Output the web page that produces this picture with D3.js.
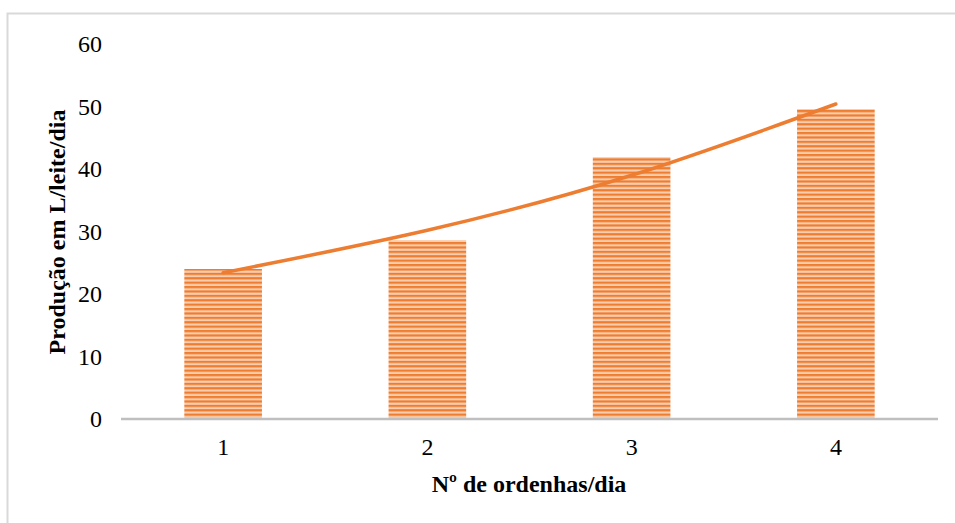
<!DOCTYPE html>
<html><head><meta charset="utf-8">
<script src="https://cdn.jsdelivr.net/npm/d3@7"></script>
<style>body{margin:0;background:#fff}svg{display:block}</style>
</head><body>
<svg id="c" width="955" height="523"></svg>
<script>
const categories = ["1", "2", "3", "4"];
const production = [24.0, 28.6, 41.9, 49.6];
const trendValues = [23.4, 30.2, 39.0, 50.4];
const yTicks = [0, 10, 20, 30, 40, 50, 60];
const xTitle = "Nº de ordenhas/dia";
const yTitle = "Produção em L/leite/dia";

const svg = d3.select("#c");
const W = 955, H = 523;
const font = "'Liberation Serif','Times New Roman',serif";
const orange = "#ED7D31";

// frame
svg.append("path").attr("d", `M7.5,${H}V13.5H${W}`).attr("fill","none").attr("stroke","#d9d9d9").attr("stroke-width",2);

// pattern
const defs = svg.append("defs");
const pat = defs.append("pattern").attr("id","stripes").attr("patternUnits","userSpaceOnUse")
  .attr("width",8).attr("height",4.4);
pat.append("rect").attr("width",8).attr("height",4.4).attr("fill","#F9CDAE");
pat.append("rect").attr("y",0).attr("width",8).attr("height",2.2).attr("fill",orange);

const x = d3.scaleBand().domain(categories).range([121, 938]).paddingInner(0.62).paddingOuter(0.31);
const y = d3.scaleLinear().domain([0, 60]).range([419, 44]);

svg.selectAll("rect.bar").data(production).join("rect").attr("class","bar")
  .attr("x",(d,i)=>x(categories[i])).attr("width",x.bandwidth())
  .attr("y",d=>y(d)).attr("height",d=>y(0)-y(d)).attr("fill","url(#stripes)");

// axis line
svg.append("line").attr("x1",121).attr("x2",938).attr("y1",y(0)).attr("y2",y(0))
  .attr("stroke","#bfbfbf").attr("stroke-width",2.5);

// y tick labels
svg.selectAll("text.yt").data(yTicks).join("text").attr("class","yt")
  .attr("x",102).attr("y",d=>y(d)).attr("dy","0.35em").attr("text-anchor","end")
  .attr("font-family",font).attr("font-size",24).attr("fill","#000").text(d=>d);

// x tick labels
svg.selectAll("text.xt").data(categories).join("text").attr("class","xt")
  .attr("x",d=>x(d)+x.bandwidth()/2).attr("y",447).attr("dy","0.35em").attr("text-anchor","middle")
  .attr("font-family",font).attr("font-size",24).attr("fill","#000").text(d=>d);

// trend line
const line = d3.line().x((d,i)=>x(categories[i])+x.bandwidth()/2).y(d=>y(d)).curve(d3.curveNatural);
svg.append("path").datum(trendValues).attr("d",line).attr("fill","none")
  .attr("stroke",orange).attr("stroke-width",3.5).attr("stroke-linecap","round");

// titles
svg.append("text").attr("x",529).attr("y",484).attr("dy","0.35em").attr("text-anchor","middle")
  .attr("font-family",font).attr("font-size",24).attr("font-weight","bold").text(xTitle);
svg.append("text").attr("transform","translate(57,232) rotate(-90)").attr("dy","0.35em").attr("text-anchor","middle")
  .attr("font-family",font).attr("font-size",24).attr("font-weight","bold").text(yTitle);
</script>
</body></html>
